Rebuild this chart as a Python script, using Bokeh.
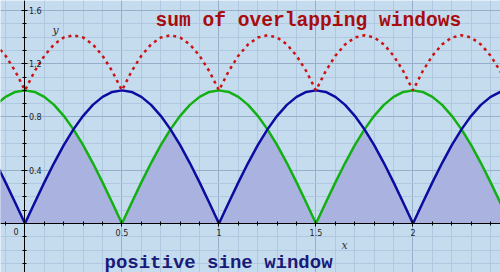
import numpy as np
from bokeh.plotting import figure
from bokeh.models import LinearAxis, FixedTicker, Grid, Label
from bokeh.embed import file_html
from bokeh.resources import INLINE

# ---- data ----
x_vals = [-0.15, -0.10, -0.05, 0.00, 0.05, 0.10, 0.15, 0.20, 0.25, 0.30, 0.35, 0.40, 0.45,
          0.50, 0.55, 0.60, 0.65, 0.70, 0.75, 0.80, 0.85, 0.90, 0.95,
          1.00, 1.05, 1.10, 1.15, 1.20, 1.25, 1.30, 1.35, 1.40, 1.45,
          1.50, 1.55, 1.60, 1.65, 1.70, 1.75, 1.80, 1.85, 1.90, 1.95,
          2.00, 2.05, 2.10, 2.15, 2.20, 2.25, 2.30, 2.35, 2.40, 2.45, 2.50]

sine_window = [0.454, 0.309, 0.156, 0.000, 0.156, 0.309, 0.454, 0.588, 0.707, 0.809, 0.891, 0.951, 0.988,
               1.000, 0.988, 0.951, 0.891, 0.809, 0.707, 0.588, 0.454, 0.309, 0.156,
               0.000, 0.156, 0.309, 0.454, 0.588, 0.707, 0.809, 0.891, 0.951, 0.988,
               1.000, 0.988, 0.951, 0.891, 0.809, 0.707, 0.588, 0.454, 0.309, 0.156,
               0.000, 0.156, 0.309, 0.454, 0.588, 0.707, 0.809, 0.891, 0.951, 0.988, 1.000]

shifted_window = [0.891, 0.951, 0.988, 1.000, 0.988, 0.951, 0.891, 0.809, 0.707, 0.588, 0.454, 0.309, 0.156,
                  0.000, 0.156, 0.309, 0.454, 0.588, 0.707, 0.809, 0.891, 0.951, 0.988,
                  1.000, 0.988, 0.951, 0.891, 0.809, 0.707, 0.588, 0.454, 0.309, 0.156,
                  0.000, 0.156, 0.309, 0.454, 0.588, 0.707, 0.809, 0.891, 0.951, 0.988,
                  1.000, 0.988, 0.951, 0.891, 0.809, 0.707, 0.588, 0.454, 0.309, 0.156, 0.000]

window_sum = [1.345, 1.260, 1.144, 1.000, 1.144, 1.260, 1.345, 1.397, 1.414, 1.397, 1.345, 1.260, 1.144,
              1.000, 1.144, 1.260, 1.345, 1.397, 1.414, 1.397, 1.345, 1.260, 1.144,
              1.000, 1.144, 1.260, 1.345, 1.397, 1.414, 1.397, 1.345, 1.260, 1.144,
              1.000, 1.144, 1.260, 1.345, 1.397, 1.414, 1.397, 1.345, 1.260, 1.144,
              1.000, 1.144, 1.260, 1.345, 1.397, 1.414, 1.397, 1.345, 1.260, 1.144, 1.000]

x_ticks = [0, 0.5, 1, 1.5, 2]
x_tick_labels = ["0", "0.5", "1", "1.5", "2"]
y_ticks = [0.4, 0.8, 1.2, 1.6]
y_tick_labels = ["0.4", "0.8", "1.2", "1.6"]

overlap = np.minimum(np.array(sine_window), np.array(shifted_window))

BG = "#c5dcef"

p = figure(width=500, height=272, x_range=(-0.126, 2.451), y_range=(-0.368, 1.675),
           output_backend="svg", toolbar_location=None,
           x_axis_location=None, y_axis_location=None, min_border=0)
p.background_fill_color = BG
p.border_fill_color = BG
p.outline_line_color = None

x_minor = [round(v, 2) for v in np.arange(-0.1, 2.45, 0.1)]
y_minor = [round(v, 2) for v in np.arange(-0.3, 1.66, 0.1)]
xticker = FixedTicker(ticks=x_ticks, minor_ticks=x_minor)
yticker = FixedTicker(ticks=y_ticks, minor_ticks=y_minor)

for dim, tk in ((0, xticker), (1, yticker)):
    g = Grid(dimension=dim, ticker=tk,
             grid_line_color="#97afc8", grid_line_width=1,
             minor_grid_line_color="#b0c9e1", minor_grid_line_width=1)
    p.add_layout(g)

# overlap fill
p.varea(x=x_vals, y1=0, y2=overlap, fill_color="#aab2e0", fill_alpha=1.0)

p.line(x_vals, shifted_window, line_color="#12b012", line_width=2.5)
p.line(x_vals, sine_window, line_color="#0c0ca0", line_width=2.5)
p.line(x_vals, window_sum, line_color="#cc1111", line_width=2.5, line_dash="3 4")

# axes through the origin
xaxis = LinearAxis(fixed_location=0, ticker=xticker,
                   major_label_overrides={t: (l if t != 0 else "") for t, l in zip(x_ticks, x_tick_labels)})
xaxis.axis_line_color = "black"
xaxis.major_tick_in = 3
xaxis.major_tick_out = 3
xaxis.minor_tick_in = 2
xaxis.minor_tick_out = 2
xaxis.major_tick_line_color = "black"
xaxis.minor_tick_line_color = "black"
xaxis.major_label_text_font = "DejaVu Sans"
xaxis.major_label_text_font_size = "8px"
xaxis.major_label_text_color = "#222222"
xaxis.major_label_standoff = 2
p.add_layout(xaxis, "below")

yaxis = LinearAxis(fixed_location=0, ticker=yticker,
                   major_label_overrides={t: l for t, l in zip(y_ticks, y_tick_labels)})
yaxis.axis_line_color = "black"
yaxis.major_tick_in = 3
yaxis.major_tick_out = 3
yaxis.minor_tick_in = 2
yaxis.minor_tick_out = 2
yaxis.major_tick_line_color = "black"
yaxis.minor_tick_line_color = "black"
yaxis.major_label_text_font = "DejaVu Sans"
yaxis.major_label_text_font_size = "8px"
yaxis.major_label_text_color = "#222222"
yaxis.major_label_standoff = 1
p.add_layout(yaxis, "right")

p.add_layout(Label(x=x_ticks[0], y=0, text=x_tick_labels[0], x_offset=-9, y_offset=-8,
                   text_font="DejaVu Sans", text_font_size="8px", text_color="#222222",
                   text_align="center", text_baseline="middle"))

# axis names
p.add_layout(Label(x=55, y=272 - 30, x_units="screen", y_units="screen", text="y",
                   text_font="DejaVu Serif", text_font_style="italic", text_font_size="11px",
                   text_color="#333333", text_align="center", text_baseline="alphabetic"))
p.add_layout(Label(x=344, y=272 - 245, x_units="screen", y_units="screen", text="x",
                   text_font="DejaVu Serif", text_font_style="italic", text_font_size="11px",
                   text_color="#333333", text_align="center", text_baseline="alphabetic"))

# titles
p.add_layout(Label(x=155, y=272 - 20.5, x_units="screen", y_units="screen",
                   text="sum of overlapping windows", text_font="Liberation Mono",
                   text_font_style="bold", text_font_size="19.6px", text_color="#a80c0c",
                   text_align="left", text_baseline="alphabetic"))
p.add_layout(Label(x=104, y=272 - 262, x_units="screen", y_units="screen",
                   text="positive sine window", text_font="Liberation Mono",
                   text_font_style="bold", text_font_size="19px", text_color="#1a1a78",
                   text_align="left", text_baseline="alphabetic"))

open("out.html", "w").write(file_html(p, INLINE))
